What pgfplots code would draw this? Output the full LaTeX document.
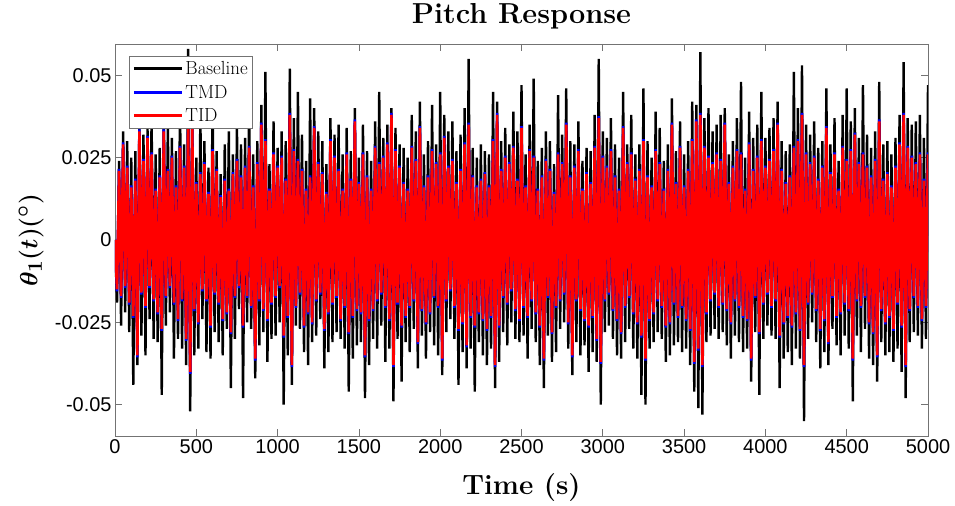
\documentclass[border=0pt]{standalone}
\usepackage{fontspec}
\usepackage{amsmath}
\usepackage{pgfplots}
\usepackage{pgfplotstable}
\pgfplotsset{compat=1.18}
\newfontfamily\tickfont{Liberation Sans}
\pgfplotsset{legend image code/.code={\draw[mark repeat=2,mark phase=2,#1] plot coordinates {(0bp,0bp) (24bp,0bp) (48bp,0bp)};}}

\pgfplotstableread{
k b r
0 0 0
-0.019 -0.0156 -0.015
0.024 0.0216 0.021
-0.026 -0.0176 -0.017
0.033 0.0296 0.029
-0.022 -0.0146 -0.014
0.030 0.0226 0.022
-0.028 -0.0196 -0.019
0.025 0.0166 0.016
-0.044 -0.0236 -0.023
0.027 0.0186 0.018
-0.038 -0.0356 -0.035
0.036 0.0336 0.033
-0.029 -0.0166 -0.016
0.032 0.0246 0.024
-0.035 -0.0206 -0.020
0.034 0.0316 0.031
-0.024 -0.0146 -0.014
0.037 0.0266 0.026
-0.030 -0.0186 -0.018
0.026 0.0156 0.015
-0.031 -0.0226 -0.022
0.028 0.0196 0.019
-0.047 -0.0276 -0.027
0.039 0.0336 0.033
-0.026 -0.0176 -0.017
0.034 0.0216 0.021
-0.022 -0.0146 -0.014
0.031 0.0256 0.025
-0.036 -0.0196 -0.019
0.027 0.0166 0.016
-0.030 -0.0246 -0.024
0.042 0.0286 0.028
-0.033 -0.0186 -0.018
0.029 0.0226 0.022
-0.038 -0.0306 -0.030
0.058 0.0366 0.036
-0.052 -0.0406 -0.040
0.041 0.0346 0.034
-0.035 -0.0216 -0.021
0.025 0.0176 0.017
-0.033 -0.0256 -0.025
0.038 0.0206 0.020
-0.024 -0.0156 -0.015
0.030 0.0236 0.023
-0.034 -0.0186 -0.018
0.022 0.0146 0.014
-0.036 -0.0266 -0.026
0.043 0.0276 0.027
-0.028 -0.0166 -0.016
0.027 0.0216 0.021
-0.031 -0.0196 -0.019
0.020 0.0136 0.013
-0.035 -0.0246 -0.024
0.029 0.0186 0.018
-0.027 -0.0226 -0.022
0.033 0.0156 0.015
-0.045 -0.0286 -0.028
0.026 0.0206 0.020
-0.030 -0.0176 -0.017
0.034 0.0246 0.024
-0.021 -0.0146 -0.014
0.029 0.0196 0.019
-0.048 -0.0266 -0.026
0.031 0.0226 0.022
-0.025 -0.0176 -0.017
0.040 0.0286 0.028
-0.027 -0.0206 -0.020
0.026 0.0166 0.016
-0.042 -0.0366 -0.036
0.030 0.0236 0.023
-0.032 -0.0186 -0.018
0.041 0.0356 0.035
-0.028 -0.0216 -0.021
0.051 0.0306 0.030
-0.037 -0.0246 -0.024
0.023 0.0156 0.015
-0.030 -0.0196 -0.019
0.036 0.0266 0.026
-0.029 -0.0176 -0.017
0.028 0.0226 0.022
-0.025 -0.0146 -0.014
0.033 0.0256 0.025
-0.050 -0.0296 -0.029
0.030 0.0186 0.018
-0.035 -0.0236 -0.023
0.052 0.0386 0.038
-0.044 -0.0386 -0.038
0.037 0.0276 0.027
-0.026 -0.0206 -0.020
0.045 0.0246 0.024
-0.027 -0.0166 -0.016
0.032 0.0216 0.021
-0.034 -0.0266 -0.026
0.024 0.0156 0.015
-0.038 -0.0226 -0.022
0.043 0.0196 0.019
-0.031 -0.0256 -0.025
0.040 0.0346 0.034
-0.029 -0.0186 -0.018
0.033 0.0236 0.023
-0.024 -0.0166 -0.016
0.030 0.0206 0.020
-0.039 -0.0276 -0.027
0.023 0.0146 0.014
-0.034 -0.0226 -0.022
0.037 0.0306 0.030
-0.031 -0.0196 -0.019
0.032 0.0256 0.025
-0.028 -0.0176 -0.017
0.035 0.0216 0.021
-0.030 -0.0246 -0.024
0.026 0.0156 0.015
-0.033 -0.0206 -0.020
0.034 0.0266 0.026
-0.046 -0.0286 -0.028
0.027 0.0186 0.018
-0.036 -0.0236 -0.023
0.040 0.0366 0.036
-0.032 -0.0216 -0.021
0.025 0.0176 0.017
-0.031 -0.0226 -0.022
0.035 0.0266 0.026
-0.048 -0.0356 -0.035
0.027 0.0196 0.019
-0.038 -0.0246 -0.024
0.024 0.0156 0.015
-0.030 -0.0216 -0.021
0.036 0.0286 0.028
-0.033 -0.0186 -0.018
0.045 0.0236 0.023
-0.026 -0.0166 -0.016
0.031 0.0256 0.025
-0.037 -0.0206 -0.020
0.035 0.0296 0.029
-0.033 -0.0246 -0.024
0.040 0.0386 0.038
-0.049 -0.0386 -0.038
0.034 0.0276 0.027
-0.030 -0.0196 -0.019
0.029 0.0226 0.022
-0.043 -0.0266 -0.026
0.028 0.0176 0.017
-0.031 -0.0236 -0.023
0.025 0.0156 0.015
-0.034 -0.0206 -0.020
0.038 0.0286 0.028
-0.027 -0.0186 -0.018
0.033 0.0246 0.024
-0.039 -0.0316 -0.031
0.042 0.0346 0.034
-0.029 -0.0216 -0.021
0.026 0.0166 0.016
-0.036 -0.0256 -0.025
0.030 0.0196 0.019
-0.028 -0.0226 -0.022
0.041 0.0276 0.027
-0.032 -0.0176 -0.017
0.029 0.0236 0.023
-0.035 -0.0206 -0.020
0.045 0.0266 0.026
-0.041 -0.0366 -0.036
0.038 0.0316 0.031
-0.028 -0.0186 -0.018
0.033 0.0226 0.022
-0.024 -0.0156 -0.015
0.036 0.0246 0.024
-0.030 -0.0206 -0.020
0.027 0.0176 0.017
-0.044 -0.0276 -0.027
0.032 0.0216 0.021
-0.034 -0.0256 -0.025
0.040 0.0296 0.029
-0.039 -0.0326 -0.032
0.055 0.0356 0.035
-0.033 -0.0236 -0.023
0.028 0.0196 0.019
-0.046 -0.0266 -0.026
0.025 0.0166 0.016
-0.031 -0.0226 -0.022
0.029 0.0186 0.018
-0.035 -0.0246 -0.024
0.027 0.0206 0.020
-0.038 -0.0276 -0.027
0.026 0.0166 0.016
-0.033 -0.0236 -0.023
0.045 0.0306 0.030
-0.045 -0.0386 -0.038
0.042 0.0386 0.038
-0.037 -0.0266 -0.026
0.030 0.0216 0.021
-0.028 -0.0176 -0.017
0.034 0.0256 0.025
-0.032 -0.0196 -0.019
0.029 0.0236 0.023
-0.025 -0.0156 -0.015
0.039 0.0286 0.028
-0.030 -0.0216 -0.021
0.033 0.0186 0.018
-0.031 -0.0246 -0.024
0.047 0.0346 0.034
-0.029 -0.0206 -0.020
0.026 0.0166 0.016
-0.036 -0.0236 -0.023
0.035 0.0276 0.027
-0.027 -0.0186 -0.018
0.049 0.0256 0.025
-0.031 -0.0226 -0.022
0.024 0.0156 0.015
-0.038 -0.0266 -0.026
0.028 0.0196 0.019
-0.045 -0.0366 -0.036
0.033 0.0246 0.024
-0.029 -0.0176 -0.017
0.030 0.0216 0.021
-0.037 -0.0286 -0.028
0.023 0.0146 0.014
-0.034 -0.0206 -0.020
0.044 0.0266 0.026
-0.027 -0.0186 -0.018
0.032 0.0236 0.023
-0.025 -0.0166 -0.016
0.046 0.0356 0.035
-0.033 -0.0256 -0.025
0.030 0.0196 0.019
-0.041 -0.0356 -0.035
0.029 0.0226 0.022
-0.031 -0.0186 -0.018
0.036 0.0276 0.027
-0.035 -0.0216 -0.021
0.024 0.0156 0.015
-0.032 -0.0246 -0.024
0.028 0.0206 0.020
-0.040 -0.0266 -0.026
0.027 0.0176 0.017
-0.034 -0.0236 -0.023
0.038 0.0286 0.028
-0.037 -0.0306 -0.030
0.055 0.0376 0.037
-0.050 -0.0376 -0.037
0.033 0.0256 0.025
-0.028 -0.0186 -0.018
0.031 0.0226 0.022
-0.026 -0.0166 -0.016
0.037 0.0276 0.027
-0.030 -0.0216 -0.021
0.029 0.0196 0.019
-0.035 -0.0246 -0.024
0.025 0.0156 0.015
-0.036 -0.0286 -0.028
0.045 0.0346 0.034
-0.031 -0.0206 -0.020
0.029 0.0236 0.023
-0.027 -0.0176 -0.017
0.038 0.0266 0.026
-0.033 -0.0226 -0.022
0.026 0.0186 0.018
-0.036 -0.0256 -0.025
0.029 0.0216 0.021
-0.047 -0.0296 -0.029
0.046 0.0306 0.030
-0.050 -0.0366 -0.036
0.030 0.0196 0.019
-0.033 -0.0246 -0.024
0.025 0.0166 0.016
-0.031 -0.0226 -0.022
0.039 0.0276 0.027
-0.028 -0.0186 -0.018
0.034 0.0236 0.023
-0.030 -0.0206 -0.020
0.024 0.0156 0.015
-0.037 -0.0266 -0.026
0.029 0.0216 0.021
-0.035 -0.0256 -0.025
0.043 0.0356 0.035
-0.032 -0.0196 -0.019
0.027 0.0176 0.017
-0.031 -0.0236 -0.023
0.036 0.0286 0.028
-0.034 -0.0206 -0.020
0.026 0.0166 0.016
-0.033 -0.0246 -0.024
0.030 0.0216 0.021
-0.038 -0.0276 -0.027
0.042 0.0306 0.030
-0.046 -0.0376 -0.037
0.041 0.0366 0.036
-0.051 -0.0336 -0.033
0.057 0.0386 0.038
-0.053 -0.0386 -0.038
0.037 0.0286 0.028
-0.031 -0.0226 -0.022
0.040 0.0256 0.025
-0.029 -0.0186 -0.018
0.033 0.0236 0.023
-0.027 -0.0166 -0.016
0.035 0.0266 0.026
-0.030 -0.0206 -0.020
0.038 0.0246 0.024
-0.028 -0.0196 -0.019
0.040 0.0356 0.035
-0.032 -0.0216 -0.021
0.026 0.0176 0.017
-0.036 -0.0256 -0.025
0.030 0.0226 0.022
-0.029 -0.0186 -0.018
0.037 0.0276 0.027
-0.031 -0.0206 -0.020
0.048 0.0266 0.026
-0.034 -0.0236 -0.023
0.025 0.0156 0.015
-0.033 -0.0246 -0.024
0.039 0.0296 0.029
-0.043 -0.0366 -0.036
0.031 0.0216 0.021
-0.028 -0.0176 -0.017
0.035 0.0256 0.025
-0.047 -0.0286 -0.028
0.045 0.0306 0.030
-0.030 -0.0196 -0.019
0.031 0.0226 0.022
-0.026 -0.0166 -0.016
0.034 0.0246 0.024
-0.029 -0.0206 -0.020
0.037 0.0276 0.027
-0.030 -0.0186 -0.018
0.042 0.0356 0.035
-0.045 -0.0296 -0.029
0.030 0.0216 0.021
-0.036 -0.0256 -0.025
0.027 0.0176 0.017
-0.034 -0.0236 -0.023
0.029 0.0196 0.019
-0.038 -0.0266 -0.026
0.051 0.0286 0.028
-0.033 -0.0226 -0.022
0.040 0.0306 0.030
-0.036 -0.0276 -0.027
0.053 0.0386 0.038
-0.055 -0.0386 -0.038
0.035 0.0266 0.026
-0.030 -0.0196 -0.019
0.032 0.0236 0.023
-0.025 -0.0166 -0.016
0.036 0.0256 0.025
-0.031 -0.0216 -0.021
0.028 0.0186 0.018
-0.039 -0.0276 -0.027
0.030 0.0226 0.022
-0.034 -0.0246 -0.024
0.046 0.0346 0.034
-0.038 -0.0316 -0.031
0.029 0.0206 0.020
-0.027 -0.0176 -0.017
0.037 0.0266 0.026
-0.032 -0.0236 -0.023
0.024 0.0156 0.015
-0.035 -0.0226 -0.022
0.038 0.0286 0.028
-0.029 -0.0196 -0.019
0.046 0.0246 0.024
-0.033 -0.0216 -0.021
0.036 0.0276 0.027
-0.049 -0.0366 -0.036
0.040 0.0326 0.032
-0.029 -0.0186 -0.018
0.031 0.0236 0.023
-0.034 -0.0206 -0.020
0.047 0.0266 0.026
-0.027 -0.0176 -0.017
0.032 0.0226 0.022
-0.036 -0.0256 -0.025
0.028 0.0196 0.019
-0.038 -0.0286 -0.028
0.033 0.0246 0.024
-0.043 -0.0356 -0.035
0.048 0.0366 0.036
-0.031 -0.0216 -0.021
0.029 0.0186 0.018
-0.035 -0.0256 -0.025
0.030 0.0206 0.020
-0.034 -0.0236 -0.023
0.026 0.0166 0.016
-0.037 -0.0276 -0.027
0.031 0.0226 0.022
-0.033 -0.0196 -0.019
0.038 0.0296 0.029
-0.040 -0.0266 -0.026
0.054 0.0386 0.038
-0.048 -0.0386 -0.038
0.037 0.0286 0.028
-0.031 -0.0216 -0.021
0.035 0.0256 0.025
-0.028 -0.0176 -0.017
0.036 0.0236 0.023
-0.029 -0.0206 -0.020
0.038 0.0266 0.026
-0.033 -0.0246 -0.024
0.031 0.0186 0.018
-0.030 -0.0206 -0.020
0.047 0.0266 0.026
}\pitch

\begin{document}
\begin{tikzpicture}
\begin{axis}[
  scale only axis,
  width=813bp, height=392bp,
  xmin=0, xmax=5000, ymin=-0.0595, ymax=0.0595,
  xtick={0,500,1000,1500,2000,2500,3000,3500,4000,4500,5000},
  ytick={-0.05,-0.025,0,0.025,0.05},
  scaled ticks=false,
  xticklabel style={/pgf/number format/.cd, 1000 sep={}, assume math mode=true},
  yticklabel style={/pgf/number format/.cd, fixed, precision=3, assume math mode=true},
  tick align=inside,
  major tick length=7bp,
  axis line style={draw=black!55, line width=0.8bp},
  tick style={draw=black!55, line width=0.8bp},
  tick label style={font=\tickfont\fontsize{20}{24}\selectfont},
  title={\textbf{Pitch Response}},
  title style={font=\fontsize{29}{34}\selectfont, at={(axis description cs:0.5,1.055)}, anchor=center},
  xlabel={\textbf{Time (s)}},
  xlabel style={font=\fontsize{28}{32}\selectfont, at={(axis description cs:0.5,-0.1327)}, anchor=center},
  ylabel={$\boldsymbol{\theta_1(t)(^\circ)}$},
  ylabel style={font=\fontsize{28}{32}\selectfont, at={(axis description cs:-0.1033,0.5)}, anchor=center},
  legend style={at={(axis description cs:0.0172,0.969)}, anchor=north west,
    draw=black!55, line width=0.8bp, fill=white, inner xsep=3bp, inner ysep=3bp,
    row sep=5bp, font=\fontsize{19}{21}\selectfont},
  legend cell align=left,
  legend image post style={line width=3bp},
]
\addplot[black, line width=2.4bp] table[x expr=\coordindex*12.5, y=k]{\pitch};
\addplot[blue, line width=2.6bp] table[x expr=\coordindex*12.5, y=b]{\pitch};
\addplot[red, line width=2.6bp] table[x expr=\coordindex*12.5, y=r]{\pitch};
\legend{Baseline,TMD,TID}
\end{axis}
\path ([shift={(-115bp,-68bp)}]current axis.south west) rectangle ([shift={(27bp,44bp)}]current axis.north east);
\end{tikzpicture}
\end{document}
